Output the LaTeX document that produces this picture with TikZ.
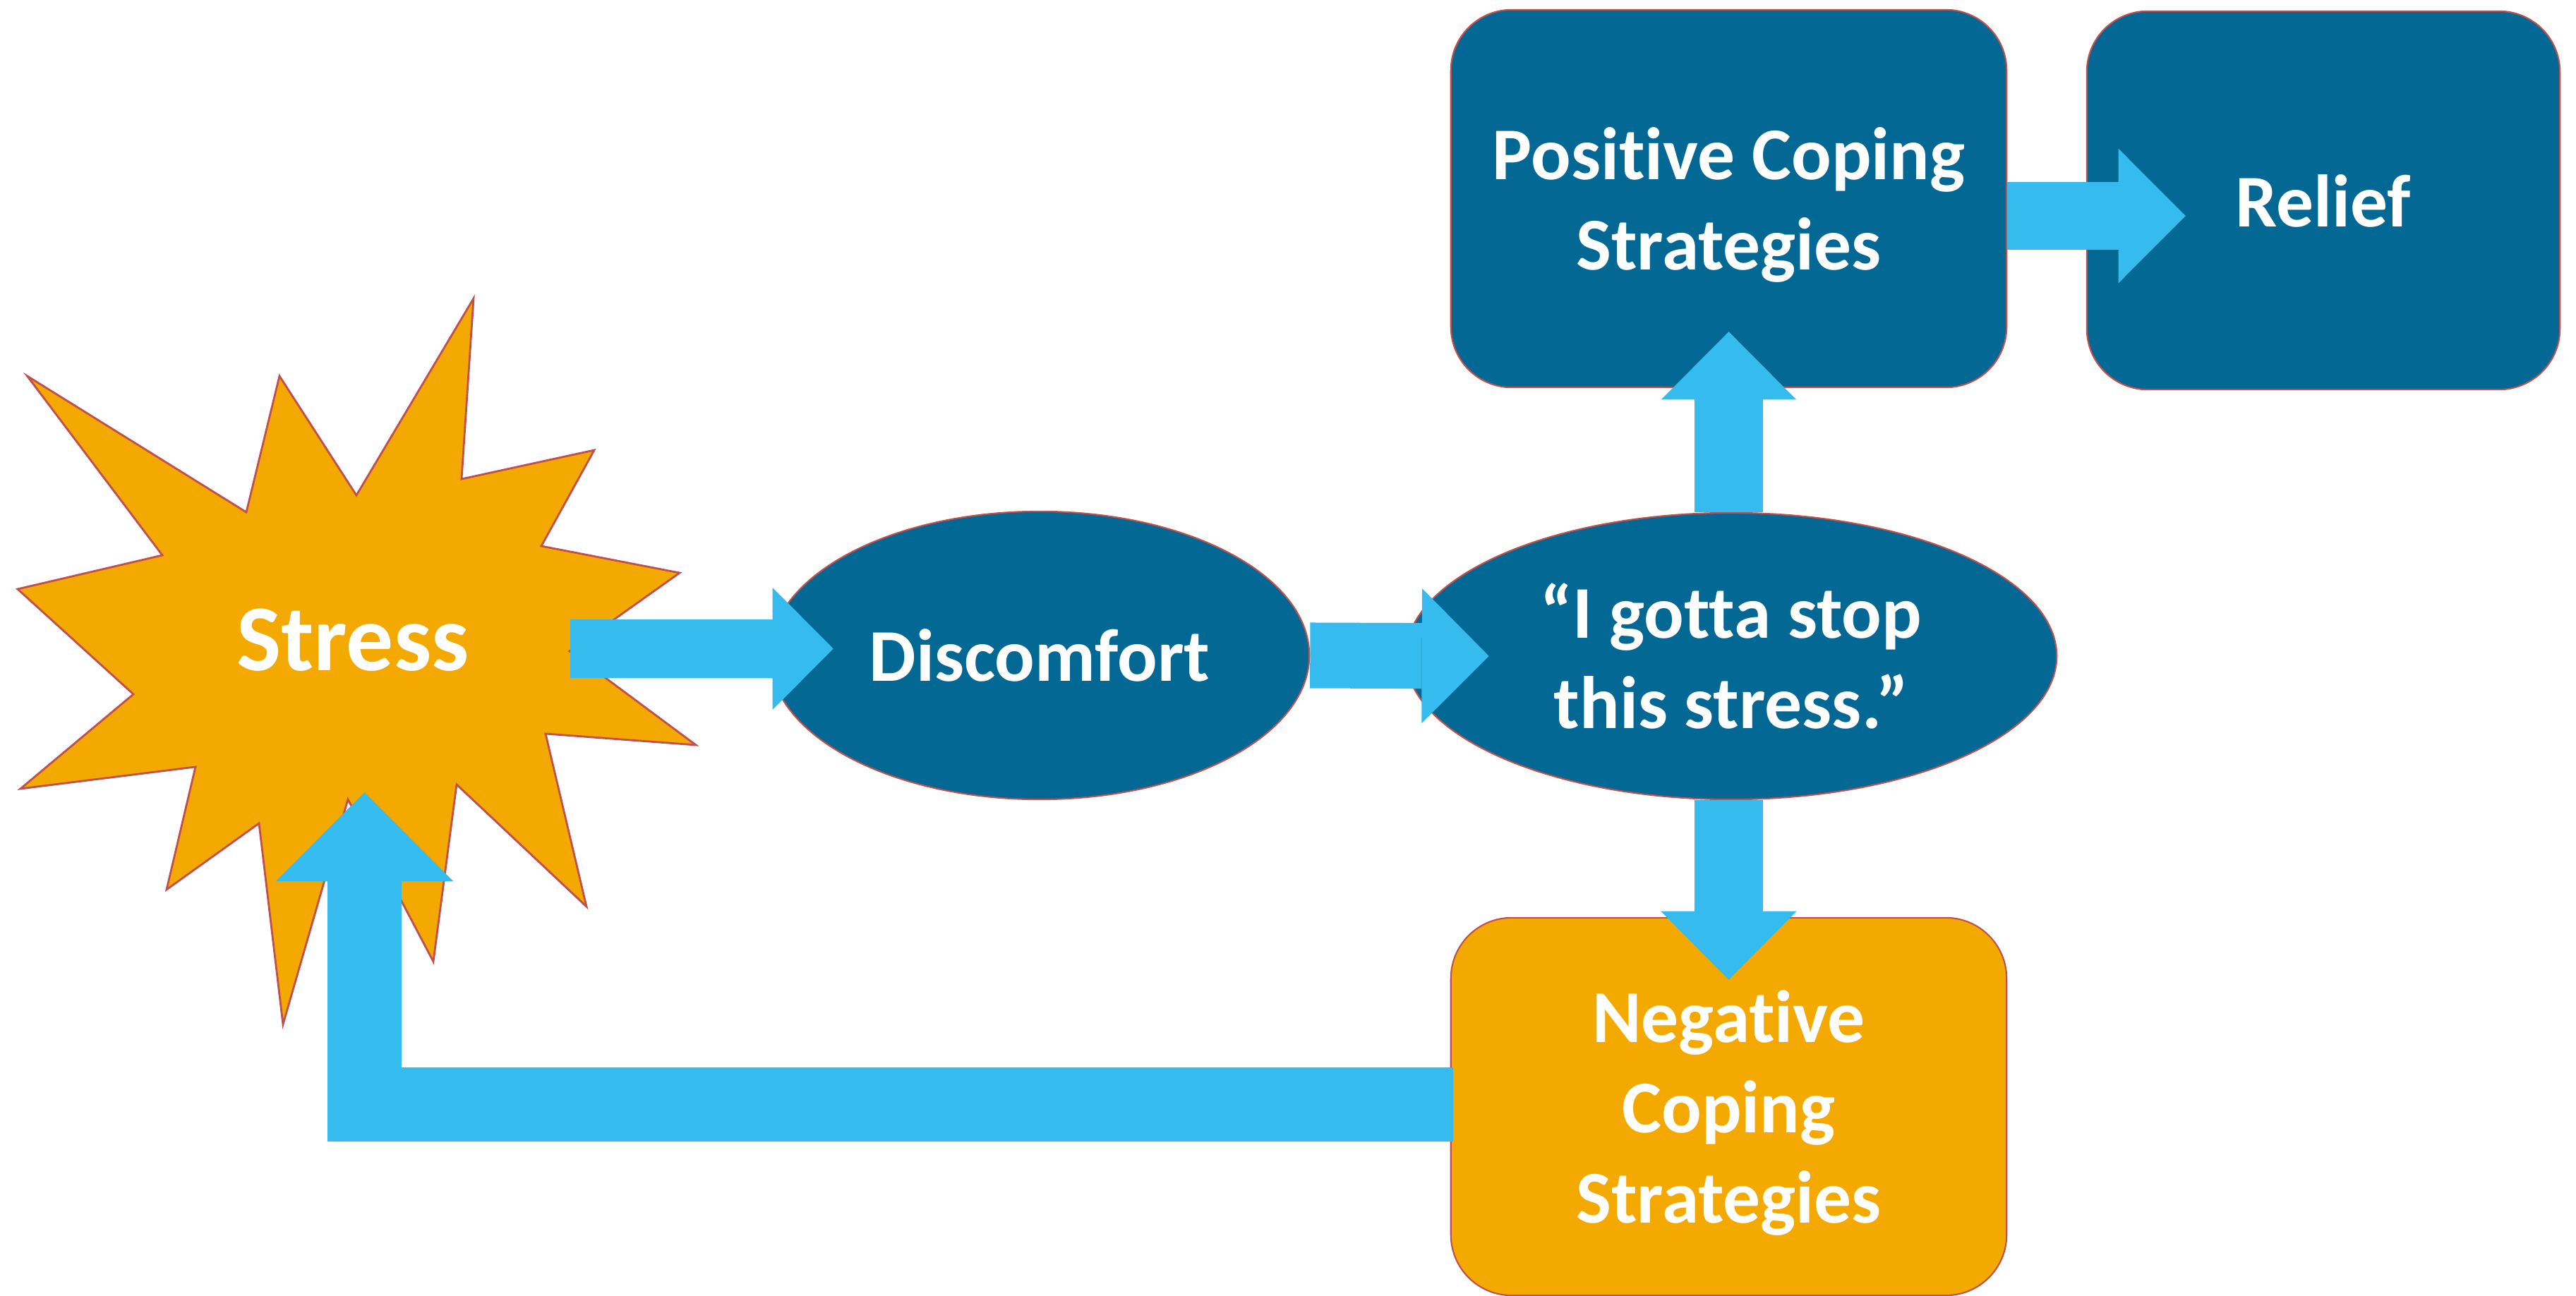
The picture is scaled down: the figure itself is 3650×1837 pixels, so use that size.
\documentclass[tikz,border=0pt]{standalone}
\usepackage{fontspec}
\setmainfont{Carlito}[Ligatures=NoCommon]
\usetikzlibrary{arrows.meta,calc,shapes.geometric}
\definecolor{dblue}{RGB}{3,104,148}
\definecolor{sorange}{RGB}{243,169,0}
\definecolor{acyan}{RGB}{53,187,237}
\definecolor{bord}{RGB}{192,80,77}
\begin{document}
\begin{tikzpicture}[x=0.01cm,y=-0.01cm,
  lbl/.style={text=white,font=\fontsize{30}{36.4}\selectfont\bfseries,align=center},
  rbox/.style={lbl,draw=bord,line width=0.6pt,rectangle,rounded corners=0.86cm,minimum height=5.35cm,inner sep=0pt,text depth=0pt},
  oval/.style={lbl,draw=bord,line width=0.6pt,fill=dblue,ellipse,inner sep=0pt},
  barrow/.style={draw=acyan,line cap=butt,line join=miter}]
\useasboundingbox (0,0) rectangle (3650,1837);
\fill[white] (0,0) rectangle (3650,1837);
% starburst
\filldraw[fill=sorange,draw=bord,line width=0.8pt]
  (38.6,533) -- (349,726) -- (396,533) -- (505,702) -- (671,423) -- (654,679)
  -- (842,638) -- (767,774) -- (963,812) -- (807,923) -- (986,1056) -- (773,1040)
  -- (831,1285) -- (647,1112) -- (614,1363) -- (493,1133) -- (401,1452) -- (367,1167)
  -- (236,1261) -- (277,1087) -- (29,1118) -- (189,984) -- (25,835) -- (230,787) -- cycle;
\node[lbl,font=\fontsize{38}{46}\selectfont\bfseries] (stress) at (500,907) {Stress};
\node[oval,minimum width=7.64cm,minimum height=4.08cm] (disc) at (1473,929) {Discomfort};
\node[oval,minimum width=9.22cm,minimum height=4.06cm] (gotta) at (2453,930) {“I gotta stop\\this stress.”};
\node[rbox,fill=dblue,minimum width=7.87cm] (pos) at (2449.5,281.5) {Positive Coping\\Strategies};
\node[rbox,fill=dblue,minimum width=6.70cm,minimum height=5.36cm] (relief) at (3292,284) {Relief};
\node[rbox,fill=sorange,minimum width=7.87cm] (neg) at (2449.5,1568.5) {Negative\\Coping\\Strategies};
% connector end points
\coordinate (sE) at (808,919.5);
\coordinate (fbTip) at ($(stress)+(16.5,216)$);
% block arrows
\draw[barrow,line width=0.83cm,-{Triangle[length=0.86cm,width=1.73cm,line width=0pt]}]
  (sE) -- ($(disc.west)+(91,-9.5)$);
\draw[barrow,line width=0.93cm,-{Triangle[length=0.95cm,width=1.91cm,line width=0pt]}]
  (disc.east) -- ($(gotta.west)+(119,0)$);
\draw[barrow,line width=0.965cm,-{Triangle[length=0.96cm,width=1.91cm,line width=0pt]}]
  (pos.south |- gotta.north) -- ($(pos.south)+(0,-80)$);
\draw[barrow,line width=0.96cm,-{Triangle[length=0.95cm,width=1.905cm,line width=0pt]}]
  ($(pos.east)+(0,24.5)$) -- ($(relief.west)+(141,22)$);
\draw[barrow,line width=0.96cm,-{Triangle[length=0.97cm,width=1.92cm,line width=0pt]}]
  (neg.north |- gotta.south) -- ($(neg.north)+(0,89)$);
\draw[barrow,line width=1.05cm,-{Triangle[length=1.26cm,width=2.51cm,line width=0pt]}]
  ($(neg.west)+(4,-3)$) -| (fbTip);
\end{tikzpicture}
\end{document}
